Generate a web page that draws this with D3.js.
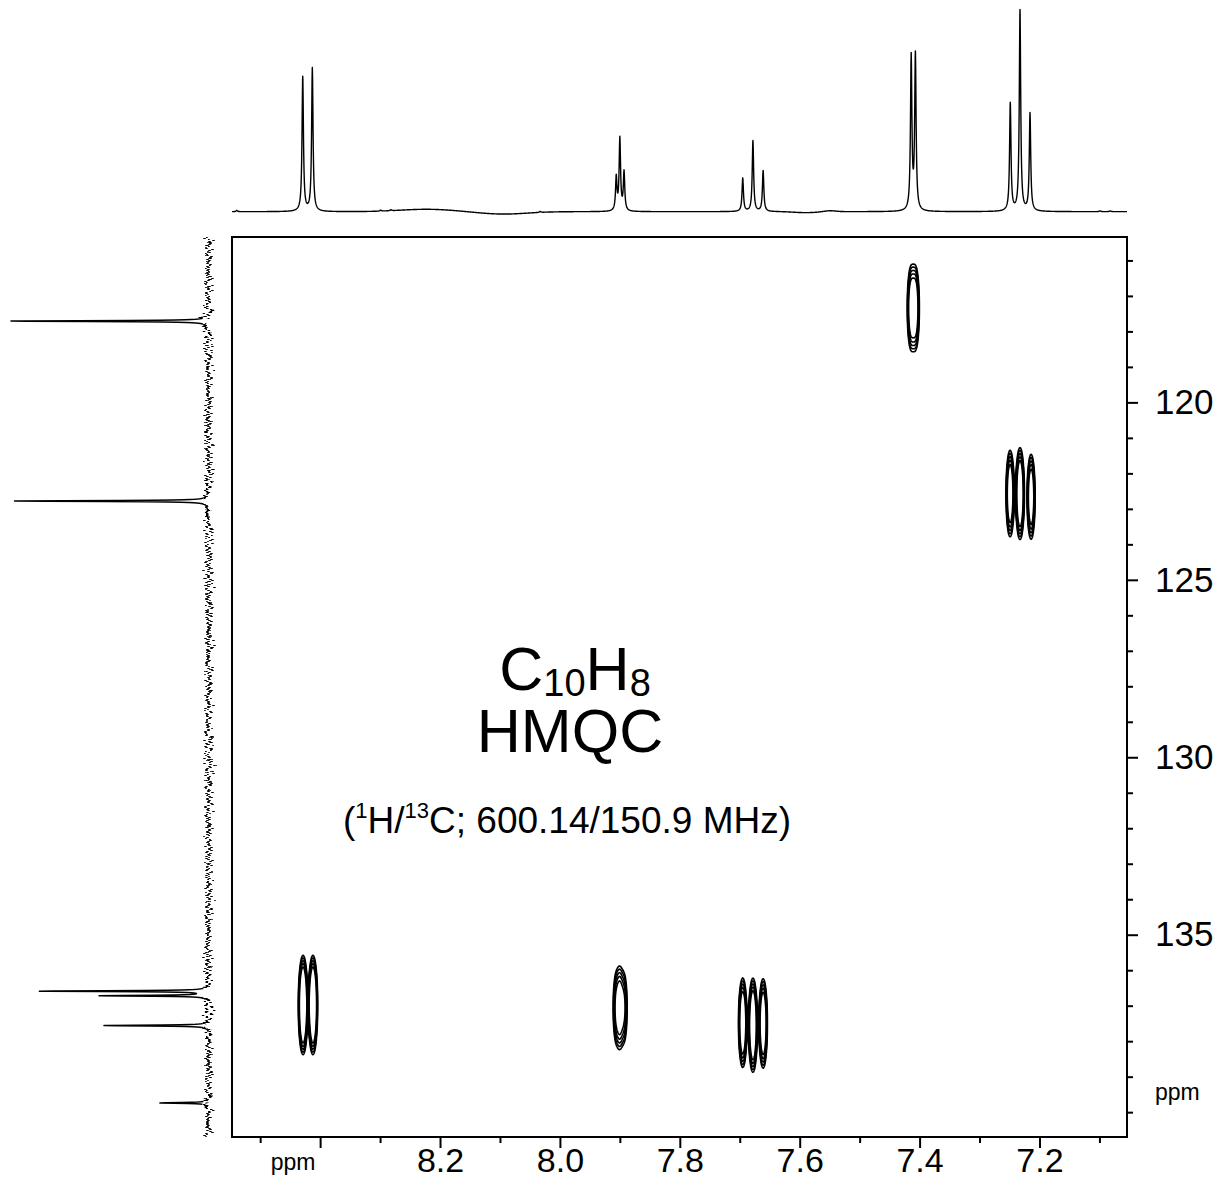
<!DOCTYPE html>
<html>
<head>
<meta charset="utf-8">
<title>C10H8 HMQC</title>
<script src="https://cdn.jsdelivr.net/npm/d3@7"></script>
<style>
  html, body { margin: 0; padding: 0; background: #fff; }
  svg { display: block; font-family: "Liberation Sans", Arial, Helvetica, sans-serif; }
</style>
</head>
<body>
<svg id="chart" width="1225" height="1182"></svg>
<script>
// ---- 1H projection (F2): peak list, intensity in % of tallest line ----
const protonShifts  = [8.539, 8.4290, 8.4130, 8.299, 8.282, 8.033, 7.9060, 7.9000, 7.8930,
                       7.6950, 7.6780, 7.6610, 7.4140, 7.4070, 7.2487, 7.2325, 7.2158, 7.099, 7.082];
const protonHeights = [0.6, 67.0, 71.4, 0.5, 0.5, 0.5, 16.6, 36.0, 19.3,
                       16.6, 35.2, 20.3, 76.4, 77.2, 53.7, 100, 48.7, 0.4, 0.4];
const protonLineWidth = 0.0014;   // Lorentzian half width, ppm

// slow baseline roll of the 1H trace
const baselineShifts  = [8.222, 8.095, 7.59, 7.55];
const baselineHeights = [1.2, -1.2, -0.5, 0.5];
const baselineWidths  = [0.045, 0.04, 0.02, 0.01];

// ---- 13C projection (F1) ----
const carbonShifts  = [117.71, 122.78, 136.59, 136.72, 137.56, 139.74];
const carbonHeights = [100, 98.2, 85.0, 54.4, 52.9, 24.6];
const carbonLineWidth = 0.014;

// ---- HMQC cross peaks ----
const crossH   = [7.414, 7.407, 7.249, 7.2325, 7.214, 8.4285, 8.412, 7.906, 7.900, 7.893, 7.695, 7.678, 7.661];
const crossC   = [117.34, 117.34, 122.57, 122.57, 122.66, 136.98, 136.98, 137.06, 137.06, 137.06, 137.48, 137.55, 137.50];
const crossAmp = [6, 6, 7, 9, 6.5, 13, 13, 3, 5, 3, 8, 10, 8];
const crossWidthH = 0.0035;   // Gaussian sigma, ppm
const crossWidthC = 0.62;
const contourLevels = [1, 1.3, 1.7, 2.2, 2.9];

// ---- axes ----
const hDomain = [8.547, 7.054];
const cDomain = [115.34, 140.70];
const hTicksMajor = [8.4, 8.2, 8.0, 7.8, 7.6, 7.4, 7.2];
const hTicksMinor = [8.5, 8.3, 8.1, 7.9, 7.7, 7.5, 7.3, 7.1];
const cTicksMajor = [120, 125, 130, 135];
const cTicksMinor = [116, 117, 118, 119, 121, 122, 123, 124, 126, 127, 128, 129,
                     131, 132, 133, 134, 136, 137, 138, 139, 140];
const unitLabel = "ppm";

// ---- layout ----
const box = { left: 232, right: 1127, top: 237, bottom: 1137 };
const svg = d3.select("#chart");

const x = d3.scaleLinear().domain(hDomain).range([box.left, box.right]);
const y = d3.scaleLinear().domain(cDomain).range([box.top, box.bottom]);
const topI  = d3.scaleLinear().domain([0, 100]).range([211.7, 11]);
const leftI = d3.scaleLinear().domain([0, 100]).range([208.5, 11]);

const lorentz = (d, g) => 1 / (1 + (d / g) * (d / g));

// ---- 1H trace ----
function protonAt(h) {
  let v = 0;
  for (let k = 0; k < protonShifts.length; k++) v += protonHeights[k] * lorentz(h - protonShifts[k], protonLineWidth);
  for (let k = 0; k < baselineShifts.length; k++) {
    const d = (h - baselineShifts[k]) / baselineWidths[k];
    v += baselineHeights[k] * Math.exp(-0.5 * d * d);
  }
  return v;
}
const hSamples = d3.range(0, 3601).map(i => hDomain[0] + (hDomain[1] - hDomain[0]) * i / 3600)
  .concat(protonShifts).sort((a, b) => b - a);
const protonTrace = hSamples.map(h => ({ h, v: protonAt(h) }));

svg.append("path")
  .datum(protonTrace)
  .attr("fill", "none").attr("stroke", "#000").attr("stroke-width", 1.4)
  .attr("stroke-linejoin", "round")
  .attr("d", d3.line().x(d => x(d.h)).y(d => topI(d.v)));

// ---- 13C trace: noisy baseline plus clean lines ----
const defs = svg.append("defs");
const f = defs.append("filter").attr("id", "carbonNoise")
  .attr("filterUnits", "userSpaceOnUse")
  .attr("x", 0).attr("y", 220).attr("width", 240).attr("height", 930)
  .attr("color-interpolation-filters", "sRGB");
f.append("feTurbulence").attr("type", "fractalNoise").attr("baseFrequency", "0.02 0.6")
  .attr("numOctaves", 3).attr("seed", 7).attr("result", "turb");
f.append("feColorMatrix").attr("in", "turb").attr("type", "matrix")
  .attr("values", "1 0 0 0 0  0 0 0 0 0.5  0 0 0 0 0.5  0 0 0 0 1").attr("result", "disp");
f.append("feDisplacementMap").attr("in", "SourceGraphic").attr("in2", "disp")
  .attr("scale", 18).attr("xChannelSelector", "R").attr("yChannelSelector", "G");

function carbonAt(c) {
  let v = 0;
  for (let k = 0; k < carbonShifts.length; k++) v += carbonHeights[k] * lorentz(c - carbonShifts[k], carbonLineWidth);
  return v;
}
const cSamples = d3.range(0, 3601).map(i => cDomain[0] + (cDomain[1] - cDomain[0]) * i / 3600)
  .concat(carbonShifts).sort((a, b) => a - b);
const carbonTrace = cSamples.map(c => ({ c, v: carbonAt(c) }));
const lineCut = 2.5;   // intensity where a line rises out of the noise band

svg.append("path")
  .datum(carbonTrace)
  .attr("fill", "none").attr("stroke", "#000").attr("stroke-width", 2.5)
  .attr("stroke-linejoin", "round")
  .attr("filter", "url(#carbonNoise)")
  .attr("d", d3.line().defined(d => d.v <= lineCut + 0.5)
    .x(d => leftI(Math.min(d.v, lineCut))).y(d => y(d.c)));

svg.append("path")
  .datum(carbonTrace)
  .attr("fill", "none").attr("stroke", "#000").attr("stroke-width", 1.5)
  .attr("stroke-linejoin", "round")
  .attr("d", d3.line().defined(d => d.v >= lineCut)
    .x(d => leftI(d.v)).y(d => y(d.c)));

// ---- 2D contour map ----
const nx = box.right - box.left, ny = box.bottom - box.top;
const hAt = t => hDomain[0] + (hDomain[1] - hDomain[0]) * t / nx;
const cAt = t => cDomain[0] + (cDomain[1] - cDomain[0]) * t / ny;
const grid = new Float64Array(nx * ny);
for (let k = 0; k < crossH.length; k++) {
  const i0 = Math.max(0, Math.floor(x(crossH[k]) - box.left - 30)), i1 = Math.min(nx - 1, i0 + 60);
  const j0 = Math.max(0, Math.floor(y(crossC[k]) - box.top - 200)), j1 = Math.min(ny - 1, j0 + 400);
  for (let j = j0; j <= j1; j++) {
    const dc = (cAt(j + 0.5) - crossC[k]) / crossWidthC;
    const ec = Math.exp(-0.5 * dc * dc);
    for (let i = i0; i <= i1; i++) {
      const dh = (hAt(i + 0.5) - crossH[k]) / crossWidthH;
      grid[j * nx + i] += crossAmp[k] * ec * Math.exp(-0.5 * dh * dh);
    }
  }
}
const contours = d3.contours().size([nx, ny]).thresholds(contourLevels)(grid);
const toPpm = d3.geoTransform({
  point(gx, gy) { this.stream.point(x(hAt(gx)), y(cAt(gy))); }
});
svg.append("g")
  .selectAll("path")
  .data(contours)
  .join("path")
  .attr("fill", "none").attr("stroke", "#000").attr("stroke-width", 1.6)
  .attr("stroke-linejoin", "round")
  .attr("d", d3.geoPath(toPpm));

// ---- frame ----
svg.append("rect")
  .attr("x", box.left).attr("y", box.top)
  .attr("width", box.right - box.left).attr("height", box.bottom - box.top)
  .attr("fill", "none").attr("stroke", "#000").attr("stroke-width", 2);

// ---- bottom axis (1H) ----
const styleAxis = g => {
  g.select(".domain").remove();
  g.selectAll(".tick line").attr("stroke", "#000").attr("stroke-width", 2);
  g.selectAll(".tick text").attr("fill", "#000");
};
svg.append("g")
  .attr("transform", `translate(0,${box.bottom})`)
  .call(d3.axisBottom(x).tickValues(hTicksMinor).tickSize(6).tickFormat(""))
  .call(styleAxis);
svg.append("g")
  .attr("transform", `translate(0,${box.bottom})`)
  .call(d3.axisBottom(x).tickValues(hTicksMajor).tickSize(11).tickPadding(0)
        .tickFormat(d => d === 8.4 ? "" : d3.format(".1f")(d)))
  .call(styleAxis)
  .call(g => g.selectAll(".tick text").attr("font-size", 34).attr("font-family", null));
svg.append("text")
  .attr("x", 293).attr("y", 1170).attr("text-anchor", "middle")
  .attr("font-size", 23).text(unitLabel);

// ---- right axis (13C) ----
svg.append("g")
  .attr("transform", `translate(${box.right},0)`)
  .call(d3.axisRight(y).tickValues(cTicksMinor).tickSize(6).tickFormat(""))
  .call(styleAxis);
svg.append("g")
  .attr("transform", `translate(${box.right},0)`)
  .call(d3.axisRight(y).tickValues(cTicksMajor).tickSize(11).tickPadding(17))
  .call(styleAxis)
  .call(g => g.selectAll(".tick text").attr("font-size", 35).attr("font-family", null));
svg.append("text")
  .attr("x", 1155).attr("y", 1100).attr("font-size", 23).text(unitLabel);

// ---- annotation ----
const title = svg.append("text").attr("x", 575).attr("y", 690)
  .attr("text-anchor", "middle").attr("font-size", 61);
title.append("tspan").text("C");
title.append("tspan").attr("font-size", 38).attr("dy", 6).text("10");
title.append("tspan").attr("dy", -6).text("H");
title.append("tspan").attr("font-size", 38).attr("dy", 6).text("8");

svg.append("text").attr("x", 570).attr("y", 752)
  .attr("text-anchor", "middle").attr("font-size", 61).text("HMQC");

const sub = svg.append("text").attr("x", 567).attr("y", 833)
  .attr("text-anchor", "middle").attr("font-size", 37);
sub.append("tspan").text("(");
sub.append("tspan").attr("font-size", 22).attr("dy", -15).text("1");
sub.append("tspan").attr("dy", 15).text("H/");
sub.append("tspan").attr("font-size", 22).attr("dy", -15).text("13");
sub.append("tspan").attr("dy", 15).text("C; 600.14/150.9 MHz)");
</script>
</body>
</html>
